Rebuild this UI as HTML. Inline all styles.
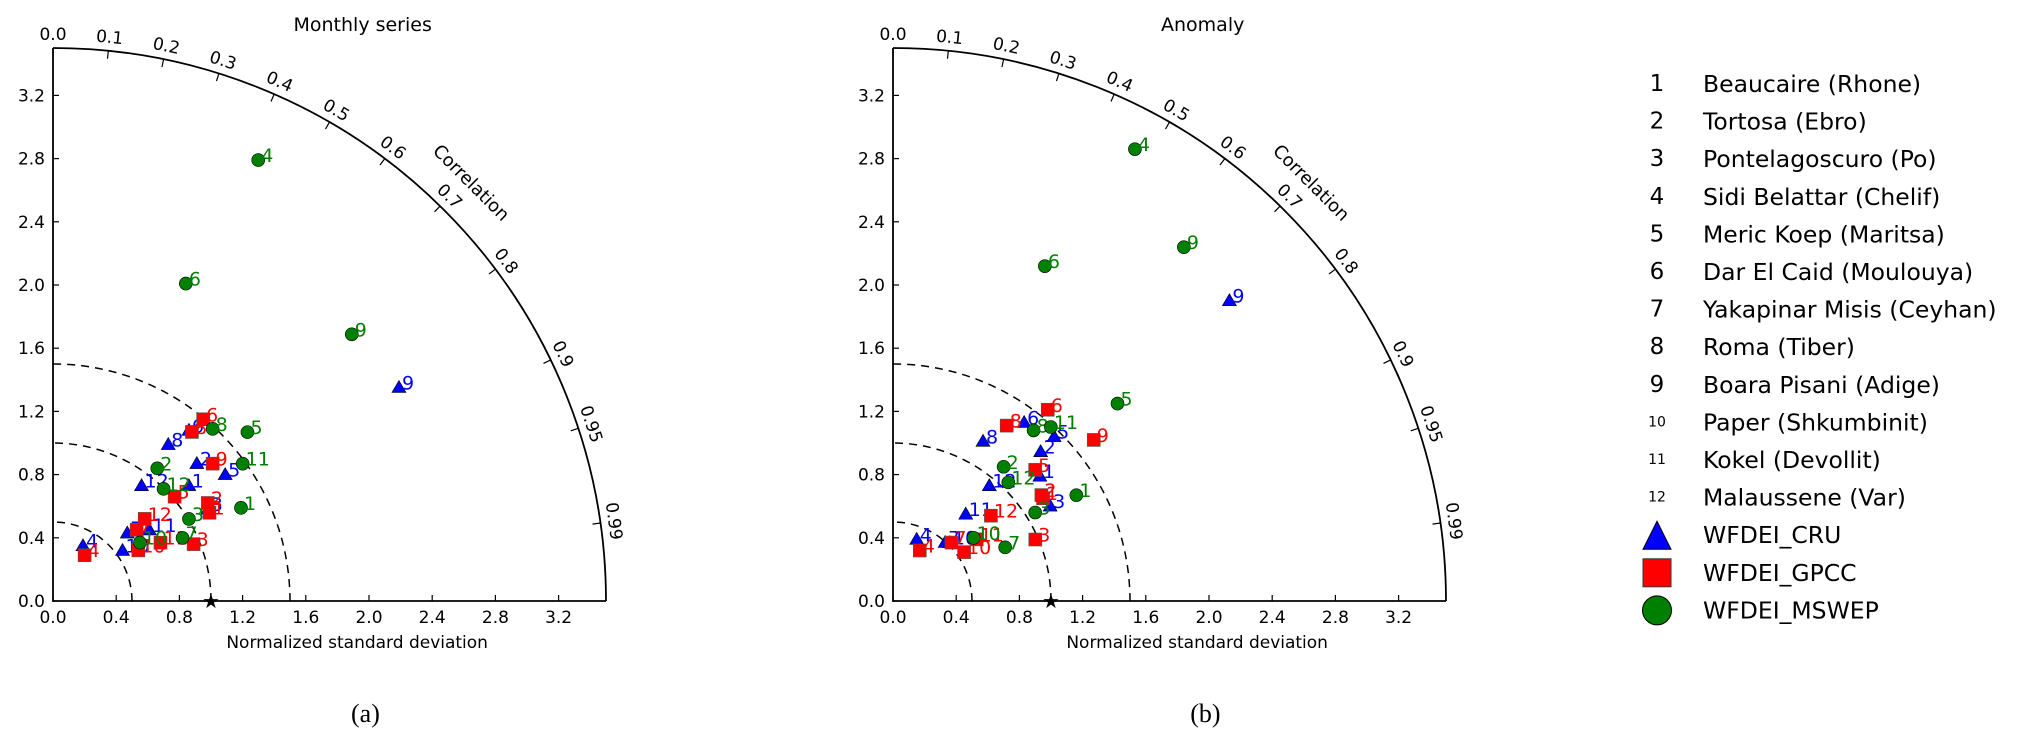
<!DOCTYPE html>
<html><head><meta charset="utf-8"><style>
html,body{margin:0;padding:0;background:#fff;width:2043px;height:744px;overflow:hidden;}
svg{display:block;font-family:"DejaVu Sans","Liberation Sans",sans-serif;}
</style></head><body>
<svg id="chart" width="2043" height="744" viewBox="0 0 2043 744" xmlns="http://www.w3.org/2000/svg">
<g id="legend"></g>
</svg>
<script>
const stations=["Beaucaire (Rhone)","Tortosa (Ebro)","Pontelagoscuro (Po)","Sidi Belattar (Chelif)","Meric Koep (Maritsa)","Dar El Caid (Moulouya)","Yakapinar Misis (Ceyhan)","Roma (Tiber)","Boara Pisani (Adige)","Paper (Shkumbinit)","Kokel (Devollit)","Malaussene (Var)"];
const products=["WFDEI_CRU","WFDEI_GPCC","WFDEI_MSWEP"];
const stdTicks=[0.0,0.4,0.8,1.2,1.6,2.0,2.4,2.8,3.2];
const corrTicks=[0.0,0.1,0.2,0.3,0.4,0.5,0.6,0.7,0.8,0.9,0.95,0.99];
const corrTickLabels=["0.0","0.1","0.2","0.3","0.4","0.5","0.6","0.7","0.8","0.9","0.95","0.99"];
const stdContours=[0.5,1.0,1.5];
const refStd=1.0;
const maxStd=3.5;
// Panel (a) Monthly series
const cruStdA=[1.128,1.259,1.139,0.398,1.352,1.381,0.637,1.230,2.573,0.544,0.758,0.920];
const cruCorrA=[0.762,0.723,0.860,0.477,0.806,0.623,0.738,0.593,0.851,0.809,0.805,0.609];
const gpccStdA=[1.137,1.160,0.960,0.352,1.014,1.492,0.695,1.385,1.333,0.628,0.774,0.779];
const gpccCorrA=[0.871,0.845,0.927,0.568,0.759,0.637,0.762,0.635,0.758,0.860,0.879,0.745];
const mswepStdA=[1.328,1.068,1.005,3.078,1.630,2.178,0.912,1.486,2.535,0.663,1.482,0.997];
const mswepCorrA=[0.896,0.618,0.856,0.422,0.755,0.386,0.899,0.680,0.746,0.830,0.810,0.702];
// Panel (b) Anomaly
const cruStdB=[1.220,1.329,1.162,0.418,1.457,1.402,0.496,1.160,2.854,0.516,0.717,0.951];
const cruCorrB=[0.762,0.703,0.856,0.359,0.700,0.592,0.665,0.491,0.746,0.698,0.642,0.641];
const gpccStdB=[1.151,1.154,0.981,0.362,1.224,1.557,0.523,1.323,1.629,0.546,0.658,0.822];
const gpccCorrB=[0.825,0.814,0.918,0.469,0.735,0.629,0.707,0.544,0.780,0.824,0.805,0.754];
const mswepStdB=[1.340,1.101,1.060,3.244,1.892,2.327,0.787,1.399,2.899,0.648,1.487,1.047];
const mswepCorrB=[0.866,0.636,0.849,0.472,0.751,0.413,0.902,0.636,0.635,0.787,0.672,0.697];

const NS="http://www.w3.org/2000/svg";
const svg=document.getElementById('chart');
const OY=601, R=553, S=R/maxStd;
const COL={cru:"#0000ff",gpcc:"#ff0000",mswep:"#008000"};
function mk(tag,attrs,parent){const e=document.createElementNS(NS,tag);for(const k in attrs)e.setAttribute(k,attrs[k]);(parent||svg).appendChild(e);return e;}
function txt(s,attrs,parent){const e=mk('text',attrs,parent);e.textContent=s;return e;}

function panel(ox,title,letter,sets,id){
  const g=mk('g',{});
  
  
  const px=(sd,c)=>ox+sd*S*c;
  const py=(sd,c)=>OY-sd*S*Math.sqrt(Math.max(0,1-c*c));
  stdContours.forEach(l=>{
    const r=l*S;
    const c=mk('path',{d:`M${ox+r},${OY} A${r},${r} 0 0 0 ${ox},${OY-r}`,fill:'none',stroke:'#000','stroke-width':1.5,'stroke-dasharray':'8,6'},g);
    
    
  });
  const arc=mk('path',{d:`M${ox+R},${OY} A${R},${R} 0 0 0 ${ox},${OY-R}`,fill:'none',stroke:'#000','stroke-width':1.8},g);
  
  
  const ax=mk('path',{d:`M${ox},${OY-R} L${ox},${OY} L${ox+R},${OY}`,fill:'none',stroke:'#000','stroke-width':1.8},g);
  
  
  stdTicks.forEach(t=>{
    const v=t*S;
    mk('line',{x1:ox,y1:OY-v,x2:ox+6,y2:OY-v,stroke:'#000','stroke-width':1.2},g);
    mk('line',{x1:ox+v,y1:OY,x2:ox+v,y2:OY-6,stroke:'#000','stroke-width':1.2},g);
    const yl=txt(t.toFixed(1),{x:ox-8,y:OY-v+6,'text-anchor':'end','font-size':17},g);
    
    
    const xl=txt(t.toFixed(1),{x:ox+v,y:OY+22,'text-anchor':'middle','font-size':17},g);
    
    
  });
  corrTicks.forEach((c,i)=>{
    const th=Math.acos(c);
    const cx=Math.cos(th), sy=Math.sin(th);
    mk('line',{x1:ox+R*cx,y1:OY-R*sy,x2:ox+(R-8)*cx,y2:OY-(R-8)*sy,stroke:'#000','stroke-width':1.2},g);
    const lr=R+13;
    const lx=ox+lr*cx, ly=OY-lr*sy;
    const rot=90-th*180/Math.PI;
    const l=txt(corrTickLabels[i],{x:lx,y:ly,'text-anchor':'middle','dominant-baseline':'central','font-size':17,transform:`rotate(${rot} ${lx} ${ly})`},g);
    
    
  });
  {
    const th=Math.acos(0.707), lr=R+38;
    const lx=ox+lr*Math.cos(th), ly=OY-lr*Math.sin(th);
    const cl=txt('Correlation',{x:lx,y:ly,'text-anchor':'middle','dominant-baseline':'central','font-size':18,transform:`rotate(45 ${lx} ${ly})`},g);
    
    
  }
  const xt=txt('Normalized standard deviation',{x:ox+R*0.55,y:OY+47,'text-anchor':'middle','font-size':17},g);
  
  
  const tt=txt(title,{x:ox+R*0.56,y:31,'text-anchor':'middle','font-size':19},g);
  
  
  const pl=txt(letter,{x:ox+R*0.565,y:722,'text-anchor':'middle','font-size':26,'font-family':'"Liberation Serif",serif'},g);
  
  
  const st=txt('★',{x:ox+refStd*S,y:OY+7,'text-anchor':'middle','font-size':20},g);
  
  
  sets.forEach(set=>{
    set.sd.forEach((sd,i)=>{
      const x=px(sd,set.c[i]), y=py(sd,set.c[i]);
      let m;
      if(set.k==='cru') m=mk('path',{d:`M${x},${y-7} L${x+7},${y+5} L${x-7},${y+5} Z`,fill:COL.cru,stroke:'#000','stroke-width':0.6},g);
      else if(set.k==='gpcc') m=mk('rect',{x:x-6.5,y:y-6.5,width:13,height:13,fill:COL.gpcc,stroke:'#555','stroke-width':0.6},g);
      else m=mk('circle',{cx:x,cy:y,r:6.5,fill:COL.mswep,stroke:'#000','stroke-width':0.6},g);
      
      
      const lb=txt(String(i+1),{x:x+3,y:y+2,'font-size':19,fill:COL[set.k]},g);
      
      
    });
  });
}
panel(53,'Monthly series','(a)',[
  {k:'cru',sd:cruStdA,c:cruCorrA},{k:'gpcc',sd:gpccStdA,c:gpccCorrA},{k:'mswep',sd:mswepStdA,c:mswepCorrA}],'a');
panel(893,'Anomaly','(b)',[
  {k:'cru',sd:cruStdB,c:cruCorrB},{k:'gpcc',sd:gpccStdB,c:gpccCorrB},{k:'mswep',sd:mswepStdB,c:mswepCorrB}],'b');

const lg=document.getElementById('legend');
const rowH=37.6, row0=84, numX=1657, textX=1703;
stations.forEach((s,i)=>{
  const y=row0+i*rowH;
  const n=txt(String(i+1),{x:numX,y:y,'text-anchor':'middle','dominant-baseline':'central','font-size':i>=9?14:23},lg);
  
  
  const t=txt(s,{x:textX,y:y,'dominant-baseline':'central','font-size':23.5},lg);
  
  
});
products.forEach((p,j)=>{
  const y=row0+(12+j)*rowH;
  let m;
  if(j===0) m=mk('path',{d:`M${numX},${y-14} L${numX+14},${y+14} L${numX-14},${y+14} Z`,fill:COL.cru,stroke:'#000','stroke-width':1},lg);
  else if(j===1) m=mk('rect',{x:numX-14,y:y-14,width:28,height:28,fill:COL.gpcc,stroke:'#333','stroke-width':1},lg);
  else m=mk('circle',{cx:numX,cy:y,r:14.5,fill:COL.mswep,stroke:'#000','stroke-width':1},lg);
  
  
  const t=txt(p,{x:textX,y:y,'dominant-baseline':'central','font-size':23.5},lg);
  
  
});
</script>
</body></html>
